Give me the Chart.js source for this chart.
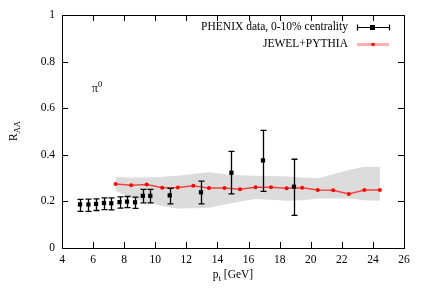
<!DOCTYPE html>
<html>
<head>
<meta charset="utf-8">
<script src="https://cdn.jsdelivr.net/npm/chart.js@4.4.0/dist/chart.umd.min.js"></script>
<style>
  html, body { margin: 0; padding: 0; background: #fff; }
  #wrap { width: 432px; height: 294px; }
</style>
</head>
<body>
<div id="wrap"><canvas id="chart" width="432" height="294"></canvas></div>
<script>
// PHENIX pi0 R_AA, 0-10% centrality
const phenixPt  = [5.16, 5.70, 6.19, 6.70, 7.17, 7.70, 8.18, 8.70, 9.20, 9.68, 10.93, 12.94, 14.90, 16.93, 18.92];
const phenixRaa = [0.187, 0.187, 0.189, 0.193, 0.192, 0.197, 0.199, 0.196, 0.224, 0.224, 0.226, 0.239, 0.323, 0.376, 0.263];
const phenixErrUp = [0.022, 0.023, 0.022, 0.022, 0.023, 0.022, 0.022, 0.022, 0.028, 0.028, 0.030, 0.048, 0.092, 0.129, 0.118];
const phenixErrDn = [0.030, 0.030, 0.028, 0.028, 0.028, 0.026, 0.026, 0.026, 0.030, 0.030, 0.037, 0.050, 0.091, 0.133, 0.123];

// JEWEL+PYTHIA curve and its uncertainty band
const jewelPt  = [7.45, 8.45, 9.45, 10.45, 11.45, 12.45, 13.45, 14.45, 15.45, 16.45, 17.45, 18.45, 19.45, 20.45, 21.45, 22.45, 23.45, 24.45];
const jewelRaa = [0.275, 0.269, 0.272, 0.259, 0.260, 0.267, 0.257, 0.258, 0.252, 0.261, 0.261, 0.256, 0.259, 0.249, 0.248, 0.232, 0.249, 0.249];
const bandHigh = [0.305, 0.303, 0.303, 0.306, 0.310, 0.318, 0.325, 0.316, 0.312, 0.310, 0.309, 0.307, 0.303, 0.299, 0.317, 0.335, 0.349, 0.349];
const bandLow  = [0.245, 0.215, 0.195, 0.180, 0.170, 0.171, 0.173, 0.187, 0.200, 0.210, 0.207, 0.203, 0.205, 0.212, 0.212, 0.212, 0.205, 0.203];

const xTicks = [4, 6, 8, 10, 12, 14, 16, 18, 20, 22, 24, 26];
const yTicks = [0, 0.2, 0.4, 0.6, 0.8, 1];

const FONT = '"Liberation Serif", "DejaVu Serif", serif';
const FS = 11.5;

const pts = (xs, ys) => xs.map((x, i) => ({ x, y: ys[i] }));

// error bars, inward ticks, frame, axis titles, label and legend
const decor = {
  id: 'decor',
  afterDatasetsDraw(chart) {
    const { ctx, scales: { x, y } } = chart;
    ctx.save();
    ctx.strokeStyle = '#000';
    ctx.lineWidth = 1.3;
    phenixPt.forEach((pt, i) => {
      const px = Math.round(x.getPixelForValue(pt)) + 0.5;
      const top = y.getPixelForValue(phenixRaa[i] + phenixErrUp[i]);
      const bot = y.getPixelForValue(phenixRaa[i] - phenixErrDn[i]);
      ctx.beginPath();
      ctx.moveTo(px, top); ctx.lineTo(px, bot);
      ctx.moveTo(px - 3, top); ctx.lineTo(px + 3, top);
      ctx.moveTo(px - 3, bot); ctx.lineTo(px + 3, bot);
      ctx.stroke();
    });
    ctx.restore();
  },
  afterDraw(chart) {
    const { ctx, chartArea: a, scales: { x, y } } = chart;
    ctx.save();
    ctx.strokeStyle = '#000';
    ctx.lineWidth = 1;
    ctx.strokeRect(Math.round(a.left) + 0.5, Math.round(a.top) + 0.5,
                   Math.round(a.right - a.left), Math.round(a.bottom - a.top));
    ctx.beginPath();
    for (const v of xTicks) {
      const px = Math.round(x.getPixelForValue(v)) + 0.5;
      ctx.moveTo(px, a.bottom); ctx.lineTo(px, a.bottom - 6);
      ctx.moveTo(px, a.top); ctx.lineTo(px, a.top + 6);
    }
    for (const v of yTicks) {
      const py = Math.round(y.getPixelForValue(v)) + 0.5;
      ctx.moveTo(a.left, py); ctx.lineTo(a.left + 6, py);
      ctx.moveTo(a.right, py); ctx.lineTo(a.right - 6, py);
    }
    ctx.stroke();

    ctx.fillStyle = '#000';
    ctx.textBaseline = 'alphabetic';
    const big = FS + 'px ' + FONT;
    const small = '8.5px ' + FONT;

    // x title: p_t [GeV]
    ctx.font = big;
    const cx = (a.left + a.right) / 2;
    const wP = ctx.measureText('p').width;
    ctx.font = small;
    const wT = ctx.measureText('t').width;
    ctx.font = big;
    const wG = ctx.measureText(' [GeV]').width;
    const sx = cx - (wP + wT + wG) / 2;
    ctx.textAlign = 'left';
    ctx.fillText('p', sx, 278);
    ctx.font = small;
    ctx.fillText('t', sx + wP, 281);
    ctx.font = big;
    ctx.fillText(' [GeV]', sx + wP + wT, 278);

    // y title: R_AA (rotated)
    ctx.save();
    ctx.translate(17, 131);
    ctx.rotate(-Math.PI / 2);
    const wR = ctx.measureText('R').width;
    ctx.font = small;
    const wAA = ctx.measureText('AA').width;
    const ry = -(wR + wAA) / 2;
    ctx.font = big;
    ctx.fillText('R', ry, 0);
    ctx.font = small;
    ctx.fillText('AA', ry + wR, 3);
    ctx.restore();

    // pi0 label
    ctx.font = big;
    ctx.fillText('\u03c0', 92, 92);
    ctx.font = small;
    ctx.fillText('0', 98, 87);

    // legend
    ctx.font = big;
    ctx.textAlign = 'right';
    ctx.textBaseline = 'middle';
    ctx.fillText('PHENIX data, 0-10% centrality', 348, 27);
    ctx.fillText('JEWEL+PYTHIA', 348, 44);

    ctx.lineWidth = 1.2;
    ctx.beginPath();
    ctx.moveTo(357, 27.5); ctx.lineTo(389, 27.5);
    ctx.moveTo(357.5, 24.5); ctx.lineTo(357.5, 30.5);
    ctx.moveTo(389.5, 24.5); ctx.lineTo(389.5, 30.5);
    ctx.stroke();
    ctx.fillRect(370, 25, 5, 5);

    ctx.strokeStyle = 'rgba(255,110,110,0.55)';
    ctx.lineWidth = 3;
    ctx.beginPath();
    ctx.moveTo(357, 44.5); ctx.lineTo(389, 44.5);
    ctx.stroke();
    ctx.fillStyle = '#ff0000';
    ctx.beginPath();
    ctx.arc(373, 44.5, 1.8, 0, Math.PI * 2);
    ctx.fill();
    ctx.restore();
  }
};

new Chart(document.getElementById('chart'), {
  type: 'line',
  data: {
    datasets: [
      {
        label: 'PHENIX data, 0-10% centrality',
        data: pts(phenixPt, phenixRaa),
        showLine: false,
        pointStyle: 'rect',
        pointRadius: 3,
        pointBackgroundColor: '#000',
        pointBorderColor: '#000',
        pointBorderWidth: 0,
      },
      {
        label: 'JEWEL+PYTHIA',
        data: pts(jewelPt, jewelRaa),
        borderColor: 'rgba(255,0,0,0.7)',
        borderWidth: 1.5,
        pointRadius: 2,
        pointBackgroundColor: '#ff0000',
        pointBorderColor: '#ff0000',
        pointBorderWidth: 0,
        tension: 0,
      },
      {
        label: 'band high',
        data: pts(jewelPt, bandHigh),
        borderWidth: 0,
        borderColor: 'rgba(0,0,0,0)',
        pointRadius: 0,
        backgroundColor: '#dcdcdc',
        fill: '+1',
        tension: 0,
      },
      {
        label: 'band low',
        data: pts(jewelPt, bandLow),
        borderWidth: 0,
        borderColor: 'rgba(0,0,0,0)',
        pointRadius: 0,
        fill: false,
        tension: 0,
      }
    ]
  },
  options: {
    responsive: false,
    devicePixelRatio: 1,
    animation: false,
    layout: { padding: { top: 15, right: 28, left: 0, bottom: 0 } },
    plugins: {
      legend: { display: false },
      tooltip: { enabled: false },
    },
    scales: {
      x: {
        type: 'linear',
        min: 4,
        max: 26,
        afterBuildTicks: (s) => { s.ticks = xTicks.map(v => ({ value: v })); },
        afterFit: (s) => { s.height = 46; },
        ticks: { color: '#000', font: { family: FONT, size: FS }, padding: 5, maxRotation: 0,
                 callback: (v) => String(v) },
        grid: { display: false, drawTicks: false },
        border: { display: false },
      },
      y: {
        type: 'linear',
        min: 0,
        max: 1,
        afterBuildTicks: (s) => { s.ticks = yTicks.map(v => ({ value: v })); },
        afterFit: (s) => { s.width = 62; },
        ticks: { color: '#000', font: { family: FONT, size: FS }, padding: 7,
                 callback: (v) => String(+v.toFixed(1)) },
        grid: { display: false, drawTicks: false },
        border: { display: false },
      }
    }
  },
  plugins: [decor]
});
</script>
</body>
</html>
